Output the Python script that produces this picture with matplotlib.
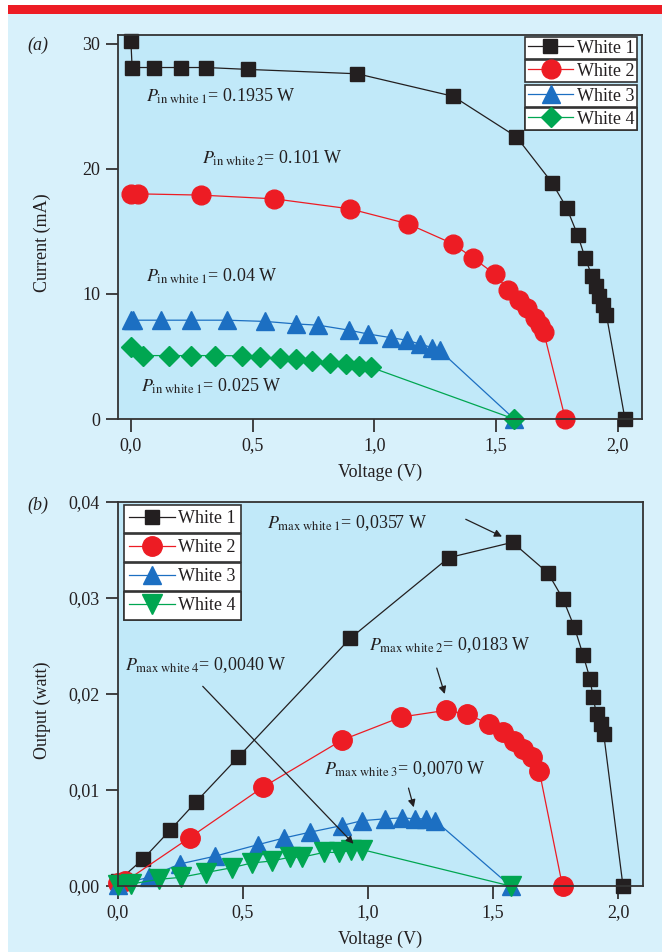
import matplotlib
matplotlib.use("Agg")
import matplotlib.pyplot as plt
from matplotlib.patches import Rectangle

plt.rcParams['font.family'] = ['Liberation Serif', 'DejaVu Serif']
plt.rcParams['mathtext.fontset'] = 'stix'

# ---------------- data: (a) current vs voltage ----------------
w1a_v = [0.0, 0.005, 0.096, 0.206, 0.31, 0.48, 0.93, 1.324, 1.584, 1.73, 1.79,
         1.836, 1.866, 1.895, 1.91, 1.925, 1.94, 1.954, 2.03]
w1a_i = [30.2, 28.1, 28.1, 28.1, 28.1, 27.95, 27.6, 25.8, 22.56, 18.9, 16.9,
         14.7, 12.9, 11.4, 10.6, 9.8, 9.1, 8.3, 0.0]
w2a_v = [0.0, 0.03, 0.288, 0.59, 0.90, 1.139, 1.324, 1.404, 1.494, 1.55, 1.593,
         1.627, 1.659, 1.68, 1.696, 1.785]
w2a_i = [18.0, 18.0, 17.9, 17.6, 16.8, 15.6, 14.0, 12.9, 11.6, 10.35, 9.54,
         8.86, 8.05, 7.5, 6.96, 0.0]
w3a_v = [0.0, 0.01, 0.125, 0.248, 0.395, 0.553, 0.678, 0.77, 0.897, 0.973,
         1.069, 1.133, 1.187, 1.239, 1.268, 1.575]
w3a_i = [7.9, 7.9, 7.9, 7.9, 7.9, 7.8, 7.6, 7.5, 7.1, 6.8, 6.5, 6.3, 6.0, 5.7,
         5.5, 0.0]
w4a_v = [0.0, 0.05, 0.155, 0.248, 0.347, 0.457, 0.531, 0.612, 0.678, 0.745,
         0.819, 0.885, 0.937, 0.988, 1.575]
w4a_i = [5.75, 5.07, 5.07, 5.07, 5.07, 5.05, 4.93, 4.85, 4.8, 4.66, 4.5, 4.39,
         4.25, 4.12, 0.0]

# ---------------- data: (b) output power vs voltage ----------------
w1b_v = [0.0, 0.1, 0.208, 0.31, 0.48, 0.929, 1.323, 1.578, 1.72, 1.78, 1.825,
         1.86, 1.888, 1.90, 1.914, 1.93, 1.943, 2.02]
w1b_p = [0.0005, 0.0028, 0.0058, 0.0087, 0.0134, 0.0258, 0.0342, 0.0358,
         0.0326, 0.0299, 0.0270, 0.0241, 0.0216, 0.0197, 0.0179, 0.0169,
         0.0158, 0.0]
w2b_v = [0.0, 0.03, 0.287, 0.58, 0.896, 1.133, 1.312, 1.395, 1.484, 1.54,
         1.584, 1.62, 1.656, 1.685, 1.778]
w2b_p = [0.0003, 0.0005, 0.00504, 0.0103, 0.0152, 0.0176, 0.0183, 0.0179,
         0.0169, 0.0160, 0.0151, 0.0143, 0.0134, 0.0120, 0.0]
w3b_v = [0.0, 0.122, 0.248, 0.387, 0.559, 0.664, 0.767, 0.896, 0.975, 1.068,
         1.137, 1.186, 1.233, 1.269, 1.57]
w3b_p = [0.0001, 0.0009, 0.0023, 0.0031, 0.0043, 0.0050, 0.0056, 0.0063,
         0.0068, 0.0070, 0.0071, 0.0070, 0.0070, 0.0068, 0.0]
w4b_v = [0.0, 0.05, 0.165, 0.251, 0.351, 0.455, 0.535, 0.614, 0.688, 0.735,
         0.824, 0.882, 0.932, 0.975, 1.57]
w4b_p = [0.0001, 0.0002, 0.0007, 0.0009, 0.0014, 0.0019, 0.0024, 0.0026,
         0.0030, 0.0030, 0.0035, 0.0035, 0.0037, 0.0038, 0.0]

labels = ['White 1', 'White 2', 'White 3', 'White 4']
x_ticks = [0.0, 0.5, 1.0, 1.5, 2.0]
x_ticklabels = ['0,0', '0,5', '1,0', '1,5', '2,0']
ya_ticks = [0, 10, 20, 30]
ya_ticklabels = ['0', '10', '20', '30']
yb_ticks = [0.0, 0.01, 0.02, 0.03, 0.04]
yb_ticklabels = ['0,00', '0,01', '0,02', '0,03', '0,04']

# ---------------- style ----------------
BLACK = '#231f20'
RED = '#ed1c24'
BLUE = '#1c6fc2'
GREEN = '#00a651'
OUTER = '#d8f1fb'
INNER = '#c1e9f9'
TXT = '#231f20'
FS = 13

W, H = 662, 952
fig = plt.figure(figsize=(W / 100, H / 100), dpi=100, facecolor='white')
fig.patches.append(Rectangle((8 / W, 0), 1 - 8 / W, 1 - 14 / H,
                             transform=fig.transFigure, facecolor=OUTER,
                             edgecolor='none', zorder=-10))
fig.patches.append(Rectangle((8 / W, 1 - 14 / H), 1 - 8 / W, 9.5 / H,
                             transform=fig.transFigure, facecolor=RED,
                             edgecolor='none', zorder=-10))


def px_axes(left, top, right, bottom):
    return fig.add_axes([left / W, 1 - bottom / H, (right - left) / W,
                         (bottom - top) / H])


axa = px_axes(118, 35, 642, 419)
axb = px_axes(118, 502, 643, 886)

for ax in (axa, axb):
    ax.set_facecolor(INNER)
    for s in ax.spines.values():
        s.set_linewidth(1.3)
        s.set_color('#333333')
    ax.tick_params(direction='out', length=9, width=1.3, color='#333333',
                   labelsize=FS, pad=4, labelcolor=TXT)
    ax.set_xticks(x_ticks)
    ax.set_xticklabels(x_ticklabels)

styles = [
    dict(color=BLACK, marker='s', ms=9.5),
    dict(color=RED, marker='o', ms=13.5),
    dict(color=BLUE, marker='^', ms=13),
    dict(color=GREEN, marker='D', ms=10.5),
]
styles_b = [
    dict(color=BLACK, marker='s', ms=9.5),
    dict(color=RED, marker='o', ms=14),
    dict(color=BLUE, marker='^', ms=13),
    dict(color=GREEN, marker='v', ms=14),
]

data_a = [(w1a_v, w1a_i), (w2a_v, w2a_i), (w3a_v, w3a_i), (w4a_v, w4a_i)]
data_b = [(w1b_v, w1b_p), (w2b_v, w2b_p), (w3b_v, w3b_p), (w4b_v, w4b_p)]

handles_a = []
for (xv, yv), st, lab in zip(data_a, styles, labels):
    h, = axa.plot(xv, yv, lw=0.9, mec=st['color'], mfc=st['color'],
                  label=lab, clip_on=False, **st)
    handles_a.append(h)
handles_b = []
for (xv, yv), st, lab in zip(data_b, styles_b, labels):
    h, = axb.plot(xv, yv, lw=0.9, mec=st['color'], mfc=st['color'],
                  label=lab, clip_on=False, **st)
    handles_b.append(h)

axa.set_xlim(-0.053, 2.1)
axa.set_ylim(0, 30.7)
axa.set_yticks(ya_ticks)
axa.set_yticklabels(ya_ticklabels)
axb.set_xlim(0.0, 2.1)
axb.set_ylim(0, 0.04)
axb.set_yticks(yb_ticks)
axb.set_yticklabels(yb_ticklabels)


def boxed_legends(ax, handles, x_anchor, tops, loc, pad):
    for h, lab, top in zip(handles, labels, tops):
        leg = ax.legend([h], [lab], loc=loc, bbox_to_anchor=(x_anchor, top),
                        bbox_transform=ax.transAxes, fontsize=FS,
                        frameon=True, fancybox=False, framealpha=1,
                        edgecolor='#333333', borderpad=pad,
                        handlelength=2.5, handletextpad=0.2,
                        borderaxespad=0, labelspacing=0)
        leg.get_frame().set_linewidth(1.2)
        for t in leg.get_texts():
            t.set_color(TXT)
        ax.add_artist(leg)


tops_a = [(419 - y) / 384 for y in (37, 60, 85, 108)]
boxed_legends(axa, handles_a, (637 - 118) / 524, tops_a, 'upper right', 0.15)
tops_b = [(886 - y) / 384 for y in (505, 534, 563, 592)]
boxed_legends(axb, handles_b, (124 - 118) / 525, tops_b, 'upper left', 0.3)

# annotations (a)
axa.text(0.062, 25.4, r'$P_{\mathrm{in\ white\ 1}}$' + '= 0.1935 W',
         fontsize=FS, va='baseline', color=TXT)
axa.text(0.292, 20.4, r'$P_{\mathrm{in\ white\ 2}}$' + '= 0.101 W',
         fontsize=FS, va='baseline', color=TXT)
axa.text(0.062, 10.96, r'$P_{\mathrm{in\ white\ 1}}$' + '= 0.04 W',
         fontsize=FS, va='baseline', color=TXT)
axa.text(0.041, 2.16, r'$P_{\mathrm{in\ white\ 1}}$' + '= 0.025 W',
         fontsize=FS, va='baseline', color=TXT)

# annotations (b)
axb.text(0.596, 0.0373, r'$P_{\mathrm{max\ white\ 1}}$' + '= 0,0357 W',
         fontsize=FS, va='baseline', color=TXT)
axb.text(1.005, 0.0246, r'$P_{\mathrm{max\ white\ 2}}$' + '= 0,0183 W',
         fontsize=FS, va='baseline', color=TXT)
axb.text(0.030, 0.0225, r'$P_{\mathrm{max\ white\ 4}}$' + '= 0,0040 W',
         fontsize=FS, va='baseline', color=TXT)
axb.text(0.825, 0.0117, r'$P_{\mathrm{max\ white\ 3}}$' + '= 0,0070 W',
         fontsize=FS, va='baseline', color=TXT)

arrows_b = [((1.391, 0.0382), (1.536, 0.0364)),
            ((1.275, 0.0227), (1.307, 0.0200)),
            ((0.339, 0.0208), (0.942, 0.0044)),
            ((1.162, 0.0102), (1.183, 0.0082))]
for start, end in arrows_b:
    axb.annotate('', xy=end, xytext=start,
                 arrowprops=dict(arrowstyle='-|>', lw=0.9, color=BLACK,
                                 mutation_scale=11, shrinkA=0, shrinkB=0),
                 zorder=5)

# axis labels & panel labels
fig.text(42 / W, 1 - 243 / H, 'Current (mA)', rotation=90, ha='center',
         va='center', fontsize=FS, color=TXT)
fig.text(42 / W, 1 - 710 / H, 'Output (watt)', rotation=90, ha='center',
         va='center', fontsize=FS, color=TXT)
fig.text(380 / W, 1 - 472 / H, 'Voltage (V)', ha='center', va='center',
         fontsize=FS, color=TXT)
fig.text(380 / W, 1 - 939 / H, 'Voltage (V)', ha='center', va='center',
         fontsize=FS, color=TXT)
fig.text(38 / W, 1 - 45 / H, '(a)', ha='center', va='center', fontsize=FS,
         style='italic', color=TXT)
fig.text(38 / W, 1 - 505 / H, '(b)', ha='center', va='center', fontsize=FS,
         style='italic', color=TXT)

fig.savefig('out.png', dpi=100, facecolor='white')
